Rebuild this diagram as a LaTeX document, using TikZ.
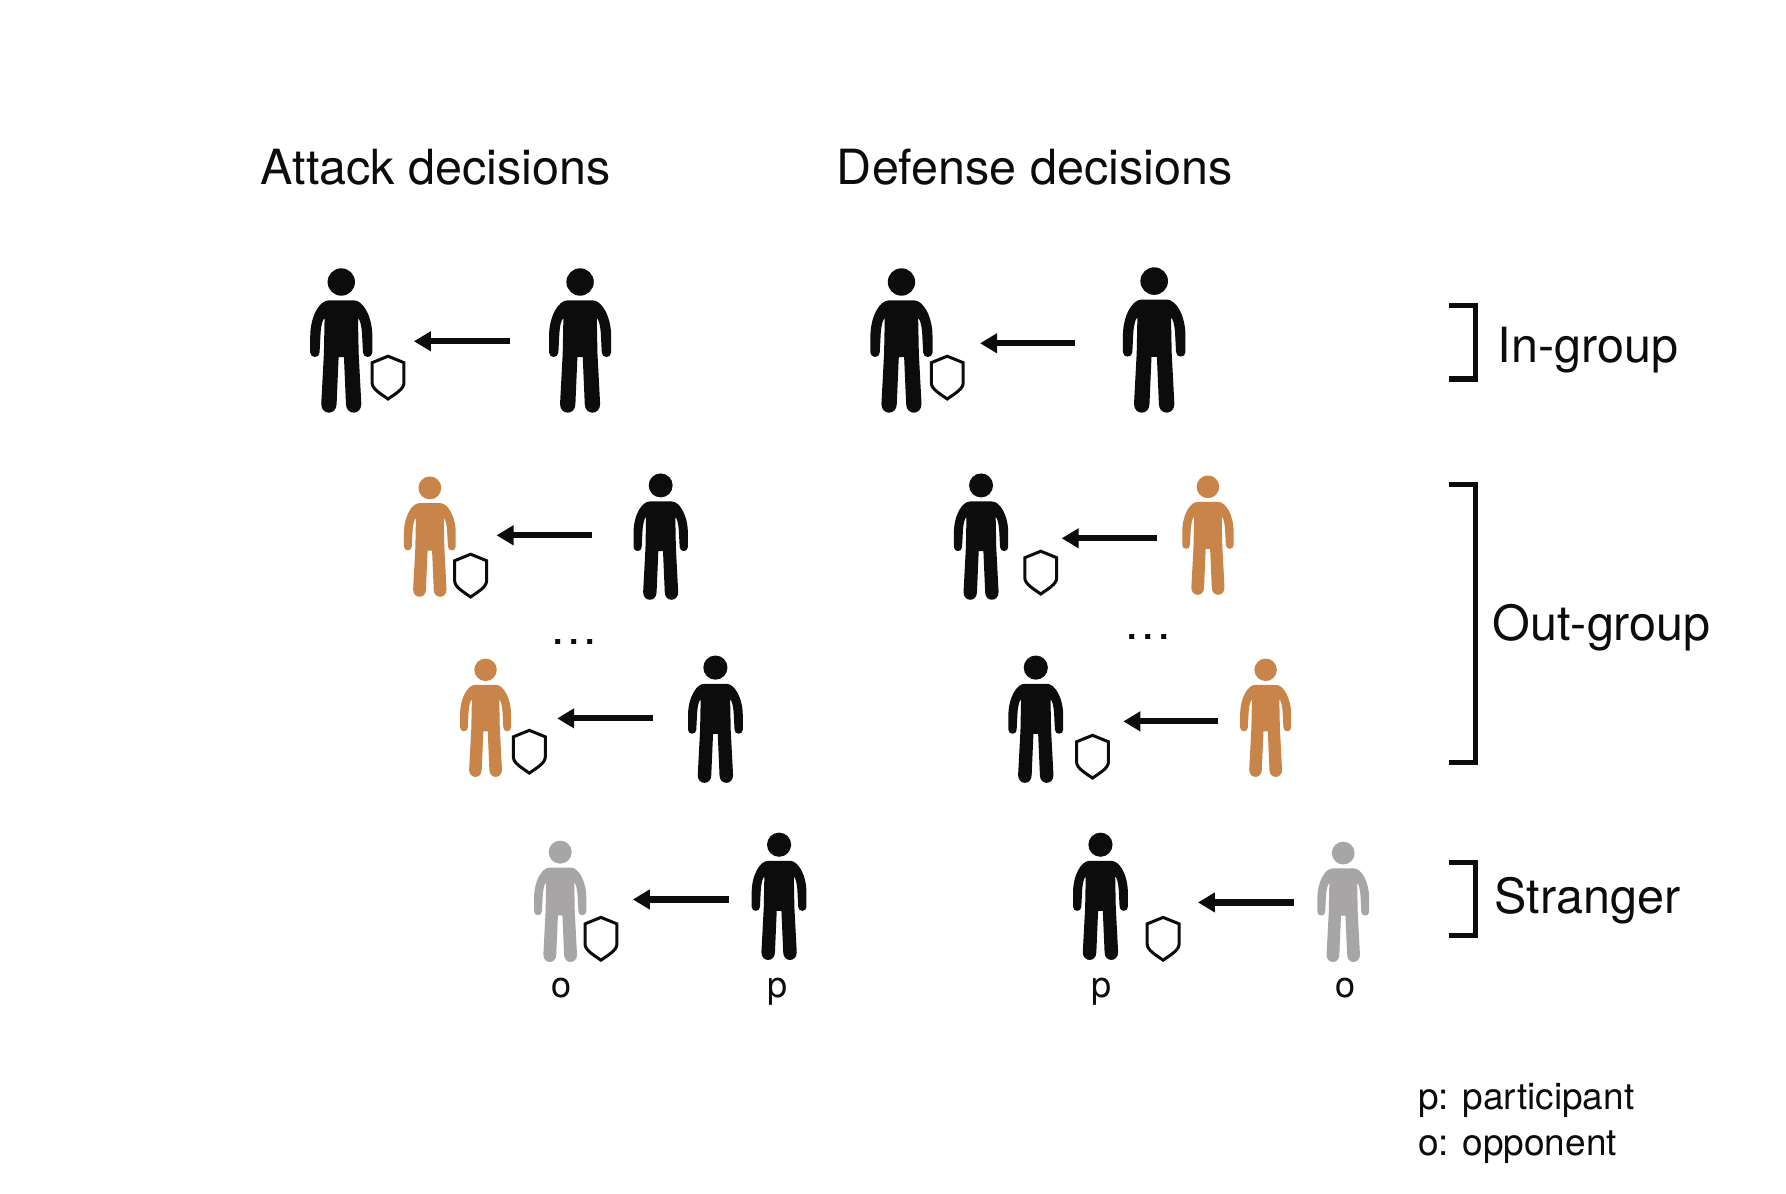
\documentclass[tikz,border=0pt]{standalone}
\usepackage{fontspec}
\setmainfont{TeX Gyre Heros}
\usetikzlibrary{arrows.meta}
\definecolor{ink}{HTML}{0C0C0C}
\definecolor{ochre}{HTML}{C98449}
\definecolor{stone}{HTML}{A7A5A5}
\tikzset{
  pic arrow/.style={draw=ink,line width=6.2pt,-{Triangle[length=17pt,width=19pt]}},
  group bracket/.style={draw=ink,line width=5.2pt,line join=miter},
  shield line/.style={draw=ink,line width=3pt,fill=white,line join=miter},
  big label/.style={anchor=base west,font=\fontsize{48.5}{50}\selectfont,text=ink,inner sep=0pt},
  small label/.style={anchor=base,font=\fontsize{36}{38}\selectfont,text=ink,inner sep=0pt},
  key label/.style={anchor=base west,font=\fontsize{37}{40}\selectfont,text=ink,inner sep=0pt},
  dots label/.style={anchor=base,font=\fontsize{48}{48}\selectfont,text=ink,inner sep=0pt},
}
% #1 name, #2 centre x, #3 top y, #4 bottom y, #5 colour
\newcommand{\figperson}[5]{%
  \pgfmathsetmacro{\figs}{0.995*(#4-#3)/429}%
  \coordinate (#1) at (#2,#3);
  \begin{scope}[shift={(#2,#3)},x=\figs pt,y=-\figs pt]
    \fill[#5] (0,37) circle[radius=41];
    \fill[#5] (-38,92) -- (38,92)
      .. controls (64,92) and (93,138) .. (93,200) -- (93,248)
      .. controls (93,266) and (65,266) .. (65,248)
      -- (62,190) .. controls (60,165) and (56,150) .. (50,145)
      -- (52,250) -- (60,402)
      .. controls (60,437) and (14,437) .. (14,402)
      -- (8,262) -- (-8,262) -- (-14,402)
      .. controls (-14,437) and (-60,437) .. (-60,402)
      -- (-52,250) -- (-50,145)
      .. controls (-56,150) and (-60,165) .. (-62,190)
      -- (-65,248)
      .. controls (-65,266) and (-93,266) .. (-93,248) -- (-93,200)
      .. controls (-93,138) and (-64,92) .. (-38,92) -- cycle;
  \end{scope}}
% #1 name, #2 centre x, #3 top y
\newcommand{\figshield}[3]{%
  \coordinate (#1) at (#2,#3);
  \begin{scope}[shift={(#2,#3)}]
    \draw[shield line] (0,0) -- (16,6.5) -- (16,27)
      .. controls (16,33) and (7,38) .. (0,43)
      .. controls (-7,38) and (-16,33) .. (-16,27) -- (-16,6.5) -- cycle;
  \end{scope}}
\begin{document}
\begin{tikzpicture}[x=0.995pt,y=-0.995pt]
\useasboundingbox (0,0) rectangle (1795,1200);
\fill[white] (0,0) rectangle (1795,1200);

\node[big label] (h1) at (262,185) {Attack decisions};
\node[big label] (h2) at (841,185) {Defense decisions};

% row 1
\figperson{a1t}{343}{271}{415}{ink}
\figperson{a1s}{583}{271}{415}{ink}
\figperson{d1t}{906}{271}{415}{ink}
\figperson{d1s}{1160}{270}{415}{ink}
% row 2
\figperson{a2t}{432}{480}{600}{ochre}
\figperson{a2s}{664}{477}{603}{ink}
\figperson{d2t}{986}{477}{603}{ink}
\figperson{d2s}{1214}{479}{598}{ochre}
% row 3
\figperson{a3t}{488}{663}{781}{ochre}
\figperson{a3s}{719}{660}{787}{ink}
\figperson{d3t}{1041}{660}{787}{ink}
\figperson{d3s}{1272}{663}{781}{ochre}
% row 4
\figperson{a4t}{563}{846}{967}{stone}
\figperson{a4s}{783}{838}{965}{ink}
\figperson{d4t}{1106}{838}{965}{ink}
\figperson{d4s}{1350}{847}{967}{stone}

% shields
\figshield{s1}{390}{358}
\figshield{s2}{473}{557}
\figshield{s3}{532}{734}
\figshield{s4}{604}{922}
\figshield{s5}{952}{358}
\figshield{s6}{1046}{554}
\figshield{s7}{1098}{739}
\figshield{s8}{1169}{922}

% arrows
\foreach \n/\tl/\tp/\yy in {1/513/416/343, 2/595/499/538, 3/656/560/722, 4/733/636/904,
                            5/1080/985/345, 6/1163/1067/541, 7/1224/1129/725, 8/1300/1204/907}{
  \coordinate (tail\n) at (\tl,\yy);
  \coordinate (tip\n) at (\tp,\yy);
  \draw[pic arrow] (tail\n) -- (tip\n);
}

% dots
\node[dots label] (dots1) at (577,648) {.\kern2.7pt.\kern2.7pt.};
\node[dots label] (dots2) at (1154,643) {.\kern2.7pt.\kern2.7pt.};

% brackets
\coordinate (b1a) at (1456,307);
\coordinate (b1b) at (1456,381);
\draw[group bracket] (b1a) -- (1483,307) -- (1483,381) -- (b1b);
\coordinate (b2a) at (1456,487);
\coordinate (b2b) at (1456,766);
\draw[group bracket] (b2a) -- (1483,487) -- (1483,766) -- (b2b);
\coordinate (b3a) at (1456,867);
\coordinate (b3b) at (1456,940);
\draw[group bracket] (b3a) -- (1483,867) -- (1483,940) -- (b3b);

\node[big label] (l1) at (1505,364) {In-group};
\node[big label] (l2) at (1500,644) {Out-group};
\node[big label] (l3) at (1502,918) {Stranger};

% o / p labels
\node[small label] (o1) at (564,1003) {o};
\node[small label] (p1) at (781,1003) {p};
\node[small label] (p2) at (1107,1003) {p};
\node[small label] (o2) at (1352,1003) {o};

% key
\node[key label] (k1) at (1425,1115) {p: participant};
\node[key label] (k2) at (1425,1161) {o: opponent};
\end{tikzpicture}
\end{document}
